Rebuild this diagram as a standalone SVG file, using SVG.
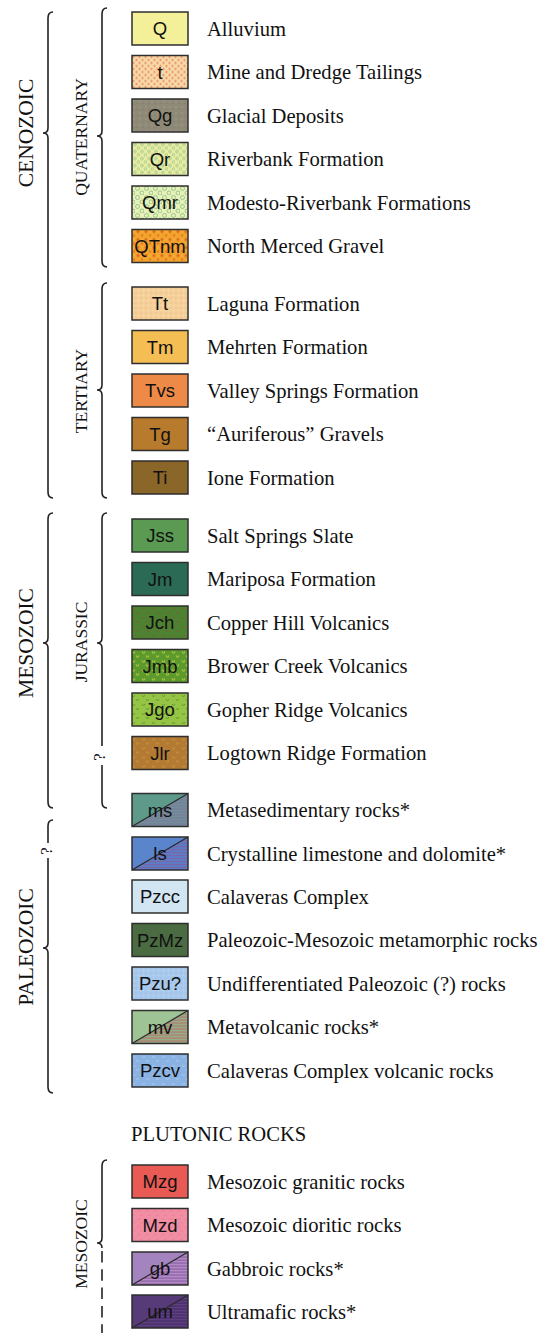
<svg xmlns="http://www.w3.org/2000/svg" width="541" height="1333" viewBox="0 0 541 1333">
<style>
.sw{stroke:#2e2e2e;stroke-width:1.5}
.code{font-family:"Liberation Sans",Arial,sans-serif;font-size:18.5px;fill:#111;text-anchor:middle}
.lab{font-family:"Liberation Serif","Times New Roman",serif;font-size:20.6px;fill:#111}
.vt{font-family:"Liberation Serif","Times New Roman",serif;fill:#111;text-anchor:middle}
.br{fill:none;stroke:#222;stroke-width:1.6}
.dg{stroke:#2a2a2a;stroke-width:1.2}
</style>
<defs>
<pattern id="p-t" width="6" height="6" patternUnits="userSpaceOnUse"><rect width="6" height="6" fill="#f7d9a4"/><circle cx="1.5" cy="1.5" r="1.1" fill="#e8826a"/><circle cx="4.5" cy="4.5" r="1.1" fill="#e8826a"/></pattern>
<pattern id="p-Qg" width="6" height="6" patternUnits="userSpaceOnUse"><rect width="6" height="6" fill="#8e8a77"/><circle cx="2" cy="2" r="0.7" fill="#a9a28a"/><circle cx="5" cy="4.5" r="0.6" fill="#7c7866"/></pattern>
<pattern id="p-Qr" width="7" height="7" patternUnits="userSpaceOnUse"><rect width="7" height="7" fill="#e8eda2"/><circle cx="2" cy="2" r="1.3" fill="none" stroke="#9cc48c" stroke-width="0.9"/><circle cx="5.5" cy="5.5" r="1.3" fill="none" stroke="#9cc48c" stroke-width="0.9"/></pattern>
<pattern id="p-Qmr" width="9" height="9" patternUnits="userSpaceOnUse"><rect width="9" height="9" fill="#e8f2b8"/><circle cx="2.5" cy="2.5" r="2" fill="none" stroke="#8cbf8a" stroke-width="0.9"/><circle cx="7" cy="7" r="2" fill="none" stroke="#8cbf8a" stroke-width="0.9"/></pattern>
<pattern id="p-QTnm" width="8" height="8" patternUnits="userSpaceOnUse"><rect width="8" height="8" fill="#f2a42c"/><circle cx="2" cy="2" r="1.6" fill="#e06a22"/><circle cx="6" cy="6" r="1.3" fill="#e57a24"/><circle cx="6" cy="2" r="0.8" fill="#f6c048"/></pattern>
<pattern id="p-Tt" width="5" height="5" patternUnits="userSpaceOnUse"><rect width="5" height="5" fill="#f6d09a"/><circle cx="1" cy="1" r="0.7" fill="#e9b47c"/><circle cx="3.5" cy="3.5" r="0.6" fill="#fbe2bc"/></pattern>
<pattern id="p-Jch" width="10" height="9" patternUnits="userSpaceOnUse"><rect width="10" height="9" fill="#4d8232"/><path d="M2 2 l1.5 2 l1.5 -2 M6 6 l1.5 2 l1.5 -2" fill="none" stroke="#7a6030" stroke-width="0.9"/></pattern>
<pattern id="p-Jmb" width="10" height="9" patternUnits="userSpaceOnUse"><rect width="10" height="9" fill="#5c9a2e"/><path d="M2 2 l1.5 2 l1.5 -2 M6 6 l1.5 2 l1.5 -2" fill="none" stroke="#d6d23e" stroke-width="1"/></pattern>
<pattern id="p-Jgo" width="10" height="9" patternUnits="userSpaceOnUse"><rect width="10" height="9" fill="#96c444"/><path d="M2 2 l1.5 2 l1.5 -2 M6 6 l1.5 2 l1.5 -2" fill="none" stroke="#5c9a30" stroke-width="0.9"/></pattern>
<pattern id="p-Jlr" width="10" height="9" patternUnits="userSpaceOnUse"><rect width="10" height="9" fill="#b27a32"/><path d="M2 2 l1.5 2 l1.5 -2 M6 6 l1.5 2 l1.5 -2" fill="none" stroke="#d8943a" stroke-width="0.9"/></pattern>
<pattern id="p-Pzu" width="5" height="5" patternUnits="userSpaceOnUse"><rect width="5" height="5" fill="#a9c9ec"/><circle cx="1" cy="1" r="0.6" fill="#86aede"/><circle cx="3.5" cy="3.5" r="0.5" fill="#c6dcf4"/></pattern>
<pattern id="p-Pzcv" width="10" height="9" patternUnits="userSpaceOnUse"><rect width="10" height="9" fill="#8ab2e2"/><path d="M2 2 l1.5 2 l1.5 -2 M6 6 l1.5 2 l1.5 -2" fill="none" stroke="#a9c8f0" stroke-width="0.9"/></pattern>
<pattern id="p-Mzd" width="8" height="8" patternUnits="userSpaceOnUse"><rect width="8" height="8" fill="#f28ea4"/><path d="M1 3 q2 -2 4 0 M4 7 q2 -2 3 0" fill="none" stroke="#e47690" stroke-width="0.8"/></pattern>
<pattern id="s-ms" width="4" height="3" patternUnits="userSpaceOnUse"><rect width="4" height="3" fill="#6f9196"/><rect width="4" height="1.2" fill="#7d77a0"/></pattern>
<pattern id="s-ls" width="4" height="3" patternUnits="userSpaceOnUse"><rect width="4" height="3" fill="#5a7ec6"/><rect width="4" height="1.2" fill="#7a64aa"/></pattern>
<pattern id="s-mv" width="4" height="3" patternUnits="userSpaceOnUse"><rect width="4" height="3" fill="#8fb486"/><rect width="4" height="1.2" fill="#b87070"/></pattern>
<pattern id="s-gb" width="4" height="3" patternUnits="userSpaceOnUse"><rect width="4" height="3" fill="#9470b0"/><rect width="4" height="1.2" fill="#b988c4"/></pattern>
<pattern id="s-um" width="4" height="3" patternUnits="userSpaceOnUse"><rect width="4" height="3" fill="#4e3270"/><rect width="4" height="1.2" fill="#5e4080"/></pattern>
</defs>

<!-- Vertical headings -->
<g id="headings">
<text class="vt" font-size="21.5" transform="translate(33,133) rotate(-90)">CENOZOIC</text>
<text class="vt" font-size="17.5" transform="translate(87,137) rotate(-90)">QUATERNARY</text>
<text class="vt" font-size="17.5" transform="translate(87,391) rotate(-90)">TERTIARY</text>
<text class="vt" font-size="21.5" transform="translate(33,643) rotate(-90)">MESOZOIC</text>
<text class="vt" font-size="17.5" transform="translate(87,642) rotate(-90)">JURASSIC</text>
<text class="vt" font-size="21.5" transform="translate(33,947) rotate(-90)">PALEOZOIC</text>
<text class="vt" font-size="17.5" transform="translate(87,1244) rotate(-90)">MESOZOIC</text>
<text class="vt" font-size="17" transform="translate(105,757) rotate(-90)">?</text>
<text class="vt" font-size="17" transform="translate(52,851) rotate(-90)">?</text>
<text class="lab" x="131" y="1141">PLUTONIC ROCKS</text>
</g>

<!-- Braces -->
<g id="connectors">
<path class="br" d="M53,12 Q48,12 48,18 L48,128 Q48,133 43,133 Q48,133 48,138 L48,492 Q48,498 53,498"/>
<path class="br" d="M107,8 Q102,8 102,14 L102,131 Q102,136 97,136 Q102,136 102,141 L102,261 Q102,267 107,267"/>
<path class="br" d="M107,283 Q102,283 102,289 L102,385 Q102,390 97,390 Q102,390 102,395 L102,492 Q102,498 107,498"/>
<path class="br" d="M53,513 Q48,513 48,519 L48,638 Q48,643 43,643 Q48,643 48,648 L48,802 Q48,808 53,808"/>
<path class="br" d="M107,513 Q102,513 102,519 L102,638 Q102,643 97,643 Q102,643 102,648 L102,746"/>
<path class="br" d="M102,765 L102,802 Q102,808 107,808"/>
<path class="br" d="M53,820 Q48,820 48,826 L48,843"/>
<path class="br" d="M48,858 L48,943 Q48,948 43,948 Q48,948 48,953 L48,1087 Q48,1093 53,1093"/>
<path class="br" d="M107,1160 Q102,1160 102,1166 L102,1238 Q102,1243 97,1243 Q102,1243 102,1248"/>
<path class="br" d="M102,1251 L102,1333" stroke-dasharray="11.5 6.8"/>
</g>

<!-- Legend rows -->
<g id="row-Q" transform="translate(0,12)"><rect class="sw" x="132" y="0" width="56" height="33" fill="#f4f09a"/><text class="code" x="160" y="23">Q</text><text class="lab" x="207" y="23.5">Alluvium</text></g>
<g id="row-t" transform="translate(0,55.5)"><rect class="sw" x="132" y="0" width="56" height="33" fill="url(#p-t)"/><text class="code" x="160" y="23">t</text><text class="lab" x="207" y="23.5">Mine and Dredge Tailings</text></g>
<g id="row-Qg" transform="translate(0,99)"><rect class="sw" x="132" y="0" width="56" height="33" fill="url(#p-Qg)"/><text class="code" x="160" y="23">Qg</text><text class="lab" x="207" y="23.5">Glacial Deposits</text></g>
<g id="row-Qr" transform="translate(0,142.5)"><rect class="sw" x="132" y="0" width="56" height="33" fill="url(#p-Qr)"/><text class="code" x="160" y="23">Qr</text><text class="lab" x="207" y="23.5">Riverbank Formation</text></g>
<g id="row-Qmr" transform="translate(0,186)"><rect class="sw" x="132" y="0" width="56" height="33" fill="url(#p-Qmr)"/><text class="code" x="160" y="23">Qmr</text><text class="lab" x="207" y="23.5">Modesto-Riverbank Formations</text></g>
<g id="row-QTnm" transform="translate(0,229.5)"><rect class="sw" x="132" y="0" width="56" height="33" fill="url(#p-QTnm)"/><text class="code" x="160" y="23">QTnm</text><text class="lab" x="207" y="23.5">North Merced Gravel</text></g>
<g id="row-Tt" transform="translate(0,287)"><rect class="sw" x="132" y="0" width="56" height="33" fill="url(#p-Tt)"/><text class="code" x="160" y="23">Tt</text><text class="lab" x="207" y="23.5">Laguna Formation</text></g>
<g id="row-Tm" transform="translate(0,330.5)"><rect class="sw" x="132" y="0" width="56" height="33" fill="#f5be55"/><text class="code" x="160" y="23">Tm</text><text class="lab" x="207" y="23.5">Mehrten Formation</text></g>
<g id="row-Tvs" transform="translate(0,374)"><rect class="sw" x="132" y="0" width="56" height="33" fill="#ee8a48"/><text class="code" x="160" y="23">Tvs</text><text class="lab" x="207" y="23.5">Valley Springs Formation</text></g>
<g id="row-Tg" transform="translate(0,417.5)"><rect class="sw" x="132" y="0" width="56" height="33" fill="#b87a2c"/><text class="code" x="160" y="23">Tg</text><text class="lab" x="207" y="23.5">“Auriferous” Gravels</text></g>
<g id="row-Ti" transform="translate(0,461)"><rect class="sw" x="132" y="0" width="56" height="33" fill="#8a6628"/><text class="code" x="160" y="23">Ti</text><text class="lab" x="207" y="23.5">Ione Formation</text></g>
<g id="row-Jss" transform="translate(0,519)"><rect class="sw" x="132" y="0" width="56" height="33" fill="#5b9a52"/><text class="code" x="160" y="23">Jss</text><text class="lab" x="207" y="23.5">Salt Springs Slate</text></g>
<g id="row-Jm" transform="translate(0,562.5)"><rect class="sw" x="132" y="0" width="56" height="33" fill="#2b6b56"/><text class="code" x="160" y="23">Jm</text><text class="lab" x="207" y="23.5">Mariposa Formation</text></g>
<g id="row-Jch" transform="translate(0,606)"><rect class="sw" x="132" y="0" width="56" height="33" fill="url(#p-Jch)"/><text class="code" x="160" y="23">Jch</text><text class="lab" x="207" y="23.5">Copper Hill Volcanics</text></g>
<g id="row-Jmb" transform="translate(0,649.5)"><rect class="sw" x="132" y="0" width="56" height="33" fill="url(#p-Jmb)"/><text class="code" x="160" y="23">Jmb</text><text class="lab" x="207" y="23.5">Brower Creek Volcanics</text></g>
<g id="row-Jgo" transform="translate(0,693)"><rect class="sw" x="132" y="0" width="56" height="33" fill="url(#p-Jgo)"/><text class="code" x="160" y="23">Jgo</text><text class="lab" x="207" y="23.5">Gopher Ridge Volcanics</text></g>
<g id="row-Jlr" transform="translate(0,736.5)"><rect class="sw" x="132" y="0" width="56" height="33" fill="url(#p-Jlr)"/><text class="code" x="160" y="23">Jlr</text><text class="lab" x="207" y="23.5">Logtown Ridge Formation</text></g>
<g id="row-ms" transform="translate(0,793.5)"><rect x="132" y="0" width="56" height="33" fill="url(#s-ms)"/><polygon points="132,0 188,0 132,33" fill="#5d9a8a"/><line class="dg" x1="132" y1="33" x2="188" y2="0"/><rect class="sw" x="132" y="0" width="56" height="33" fill="none"/><text class="code" x="160" y="23">ms</text><text class="lab" x="207" y="23.5">Metasedimentary rocks*</text></g>
<g id="row-ls" transform="translate(0,837)"><rect x="132" y="0" width="56" height="33" fill="url(#s-ls)"/><polygon points="132,0 188,0 132,33" fill="#5a84cc"/><line class="dg" x1="132" y1="33" x2="188" y2="0"/><rect class="sw" x="132" y="0" width="56" height="33" fill="none"/><text class="code" x="160" y="23">ls</text><text class="lab" x="207" y="23.5">Crystalline limestone and dolomite*</text></g>
<g id="row-Pzcc" transform="translate(0,880)"><rect class="sw" x="132" y="0" width="56" height="33" fill="#d2e5f3"/><text class="code" x="160" y="23">Pzcc</text><text class="lab" x="207" y="23.5">Calaveras Complex</text></g>
<g id="row-PzMz" transform="translate(0,923.5)"><rect class="sw" x="132" y="0" width="56" height="33" fill="#4b6b42"/><text class="code" x="160" y="23">PzMz</text><text class="lab" x="207" y="23.5">Paleozoic-Mesozoic metamorphic rocks</text></g>
<g id="row-Pzu" transform="translate(0,967)"><rect class="sw" x="132" y="0" width="56" height="33" fill="url(#p-Pzu)"/><text class="code" x="160" y="23">Pzu?</text><text class="lab" x="207" y="23.5">Undifferentiated Paleozoic (?) rocks</text></g>
<g id="row-mv" transform="translate(0,1010.5)"><rect x="132" y="0" width="56" height="33" fill="url(#s-mv)"/><polygon points="132,0 188,0 132,33" fill="#9ec496"/><line class="dg" x1="132" y1="33" x2="188" y2="0"/><rect class="sw" x="132" y="0" width="56" height="33" fill="none"/><text class="code" x="160" y="23">mv</text><text class="lab" x="207" y="23.5">Metavolcanic rocks*</text></g>
<g id="row-Pzcv" transform="translate(0,1054)"><rect class="sw" x="132" y="0" width="56" height="33" fill="url(#p-Pzcv)"/><text class="code" x="160" y="23">Pzcv</text><text class="lab" x="207" y="23.5">Calaveras Complex volcanic rocks</text></g>
<g id="row-Mzg" transform="translate(0,1165)"><rect class="sw" x="132" y="0" width="56" height="33" fill="#e95a55"/><text class="code" x="160" y="23">Mzg</text><text class="lab" x="207" y="23.5">Mesozoic granitic rocks</text></g>
<g id="row-Mzd" transform="translate(0,1208.5)"><rect class="sw" x="132" y="0" width="56" height="33" fill="url(#p-Mzd)"/><text class="code" x="160" y="23">Mzd</text><text class="lab" x="207" y="23.5">Mesozoic dioritic rocks</text></g>
<g id="row-gb" transform="translate(0,1252)"><rect x="132" y="0" width="56" height="33" fill="url(#s-gb)"/><polygon points="132,0 188,0 132,33" fill="#a484be"/><line class="dg" x1="132" y1="33" x2="188" y2="0"/><rect class="sw" x="132" y="0" width="56" height="33" fill="none"/><text class="code" x="160" y="23">gb</text><text class="lab" x="207" y="23.5">Gabbroic rocks*</text></g>
<g id="row-um" transform="translate(0,1295)"><rect x="132" y="0" width="56" height="33" fill="url(#s-um)"/><polygon points="132,0 188,0 132,33" fill="#573a78"/><line class="dg" x1="132" y1="33" x2="188" y2="0"/><rect class="sw" x="132" y="0" width="56" height="33" fill="none"/><text class="code" x="160" y="23">um</text><text class="lab" x="207" y="23.5">Ultramafic rocks*</text></g>
</svg>
